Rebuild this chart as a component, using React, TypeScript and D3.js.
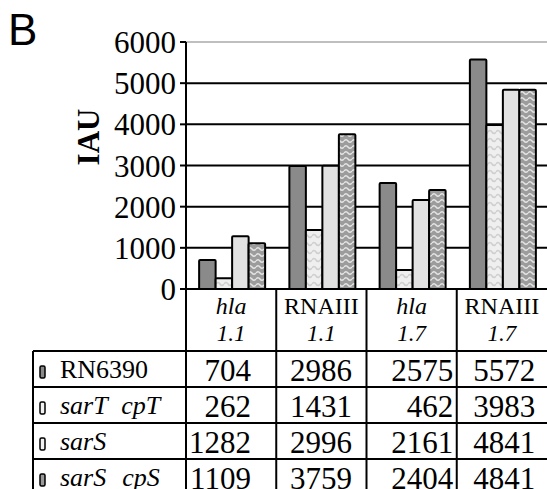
import React from "react";
import * as d3 from "d3";

// categories (two-line header) and series
const genes = ["hla", "RNAIII", "hla", "RNAIII"];
const geneItalic = [true, false, true, false];
const times = ["1.1", "1.1", "1.7", "1.7"];
const strains = ["RN6390", "sarT cpT", "sarS", "sarS cpS"];
const strainParts = [["RN6390"], ["sarT", "cpT"], ["sarS"], ["sarS", "cpS"]];
const strainItalic = [false, true, true, true];

// IAU per strain, one value per category
const rn6390 = [704, 2986, 2575, 5572];
const sarTcpT = [262, 1431, 462, 3983];
const sarS = [1282, 2996, 2161, 4841];
const sarScpS = [1109, 3759, 2404, 4841];
const values = [rn6390, sarTcpT, sarS, sarScpS];

const yTicks = [0, 1000, 2000, 3000, 4000, 5000, 6000];

const W = 547;
const H = 489;
const serif = "'Liberation Serif', 'Times New Roman', serif";

export default function App() {
  const axisX = 186;
  const x = d3.scaleBand<number>().domain(d3.range(genes.length)).range([axisX, W]);
  const y = d3.scaleLinear().domain([0, 6000]).range([289, 42]);
  const groupW = 66;
  const xs = d3.scaleBand<number>().domain(d3.range(strains.length)).range([0, groupW]);
  const rowTop = 351;
  const rows = d3.scaleBand<number>().domain(d3.range(strains.length)).range([rowTop, rowTop + 36 * 4]);
  const fills = ["#8a8a8a", "url(#waveLight)", "#e2e2e2", "url(#waveDark)"];
  const swatchFills = ["#8a8a8a", "#f2f2f2", "#f2f2f2", "#9a9a9a"];
  // right edge of numbers as fraction of column width
  const valueRight = [0.72, 0.84, 0.96, 0.87];
  const colEdges = [axisX, ...d3.range(1, genes.length).map((i) => x(i)!)];

  return (
    <svg width={W} height={H} style={{ position: "absolute", left: 0, top: 0, background: "#fff" }}
      fontFamily={serif}>
      <defs>
        <pattern id="waveLight" width="8" height="8" patternUnits="userSpaceOnUse">
          <rect width="8" height="8" fill="#efefef" />
          <path d="M0,4 Q2,1 4,4 T8,4" fill="none" stroke="#cfcfcf" strokeWidth="1.6" />
        </pattern>
        <pattern id="waveDark" width="8" height="6" patternUnits="userSpaceOnUse">
          <rect width="8" height="6" fill="#9c9c9c" />
          <path d="M0,3 Q2,0.5 4,3 T8,3" fill="none" stroke="#e4e4e4" strokeWidth="1.5" />
        </pattern>
      </defs>

      <text x={8} y={45} fontFamily="'Liberation Sans', Arial, sans-serif" fontSize={44}>B</text>

      {/* gridlines */}
      {yTicks.slice(1).map((t) => (
        <line key={t} x1={axisX} x2={W} y1={y(t)} y2={y(t)}
          stroke={t === 6000 ? "#aaa" : "#000"} strokeWidth={t === 6000 ? 1.5 : 2} />
      ))}

      {/* y axis */}
      {yTicks.map((t) => (
        <g key={t}>
          <line x1={axisX - 6} x2={axisX} y1={y(t)} y2={y(t)} stroke="#000" strokeWidth={2} />
          <text x={176} y={y(t) + 11} textAnchor="end" fontSize={31}>{t}</text>
        </g>
      ))}
      <text transform={`translate(99,137) rotate(-90)`} textAnchor="middle" fontSize={31} fontWeight="bold">IAU</text>

      {/* bars */}
      {values.map((ser, si) =>
        ser.map((v, ci) => {
          const gx = x(ci)! + x.bandwidth() / 2 - groupW / 2 + 1;
          return (
            <rect key={`${si}-${ci}`} x={gx + xs(si)!} y={y(v)} width={xs.bandwidth()}
              height={y(0) - y(v)} fill={fills[si]} stroke="#000" strokeWidth={2} rx={1} />
          );
        })
      )}

      {/* table lines */}
      <line x1={axisX} x2={W} y1={y(0)} y2={y(0)} stroke="#000" strokeWidth={2} />
      <line x1={axisX} x2={axisX} y1={y(6000)} y2={H} stroke="#000" strokeWidth={2} />
      {colEdges.slice(1).map((cx, i) => (
        <line key={i} x1={cx} x2={cx} y1={y(0)} y2={H} stroke="#000" strokeWidth={2} />
      ))}
      <line x1={33} x2={33} y1={rowTop} y2={H} stroke="#000" strokeWidth={2} />
      {d3.range(strains.length).map((i) => (
        <line key={i} x1={33} x2={W} y1={rows(i)!} y2={rows(i)!} stroke="#000" strokeWidth={2} />
      ))}

      {/* header */}
      {genes.map((g, i) => (
        <g key={i}>
          <text x={x(i)! + x.bandwidth() / 2} y={314} textAnchor="middle" fontSize={24}
            fontStyle={geneItalic[i] ? "italic" : "normal"}>{g}</text>
          <text x={x(i)! + x.bandwidth() / 2} y={341} textAnchor="middle" fontSize={23}
            fontStyle="italic">{times[i]}</text>
        </g>
      ))}

      {/* legend rows */}
      {strains.map((s, si) => {
        const top = rows(si)!;
        return (
          <g key={s}>
            <rect x={40} y={top + 15} width={5} height={12} rx={1.5} fill={swatchFills[si]}
              stroke="#000" strokeWidth={1.5} />
            <text x={60} y={top + 27} fontSize={26} fontStyle={strainItalic[si] ? "italic" : "normal"}>
              {strainParts[si].map((p, pi) => (
                <tspan key={pi} dx={pi > 0 ? 16 : 0}>{p}</tspan>
              ))}
            </text>
            {values[si].map((v, ci) => (
              <text key={ci} x={x(ci)! + x.bandwidth() * valueRight[ci]} y={top + 30}
                textAnchor="end" fontSize={31}>{v}</text>
            ))}
          </g>
        );
      })}
    </svg>
  );
}
